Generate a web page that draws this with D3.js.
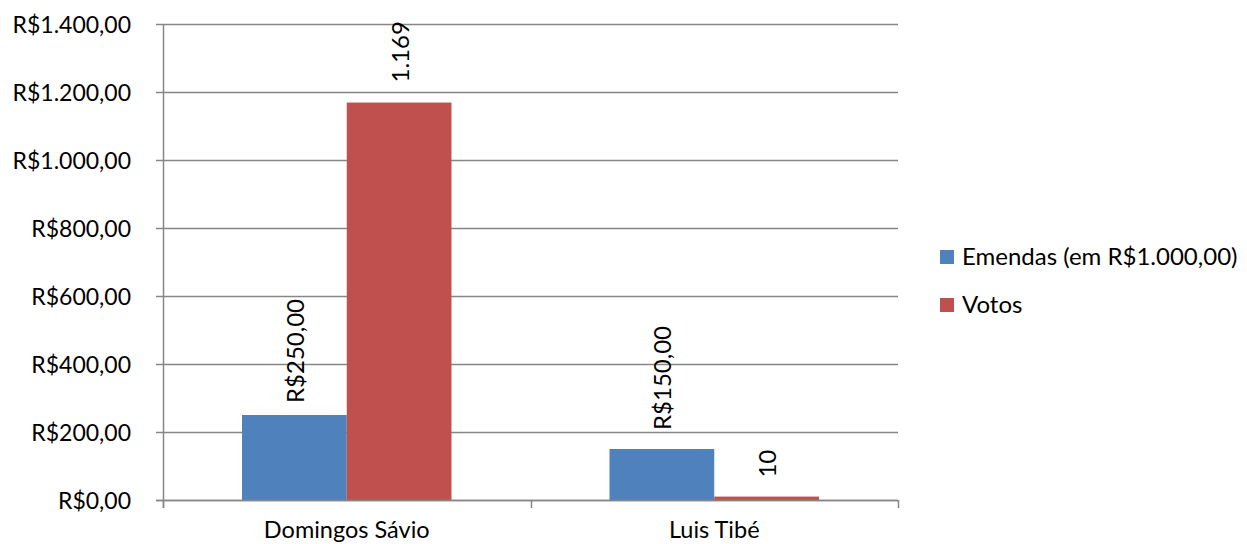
<!DOCTYPE html>
<html>
<head>
<meta charset="utf-8">
<script src="https://cdn.jsdelivr.net/npm/d3@7"></script>
<style>
  html, body { margin: 0; padding: 0; background: #fff; }
  svg { display: block; font-family: Lato, "Open Sans", sans-serif; }
</style>
</head>
<body>
<svg id="chart" width="1247" height="544"></svg>
<script>
// Candidates and the two series shown for each
const categories = ["Domingos Sávio", "Luis Tibé"];
const seriesNames = ["Emendas (em R$1.000,00)", "Votos"];
const emendas = [250, 150];
const votos = [1169, 10];
const emendasLabels = ["R$250,00", "R$150,00"];
const votosLabels = ["1.169", "10"];
const yTicks = [0, 200, 400, 600, 800, 1000, 1200, 1400];
const yTickLabels = ["R$0,00", "R$200,00", "R$400,00", "R$600,00", "R$800,00", "R$1.000,00", "R$1.200,00", "R$1.400,00"];
const colors = ["#4f81bd", "#c0504d"];

const seriesValues = [emendas, votos];
const seriesLabels = [emendasLabels, votosLabels];
// gap between bar top and its rotated label, per series / category
const labelGap = [[12, 19], [20, 19]];

const svg = d3.select("#chart");
const margin = { left: 163, right: 349, top: 24, bottom: 44 };
const W = 1247, H = 544;
const plotW = W - margin.left - margin.right;
const plotH = H - margin.top - margin.bottom;
const tickFont = 23;
const labelFont = 24;
const categoryFont = 23.5;
const gridColor = "#868686";

const g = svg.append("g").attr("transform", `translate(${margin.left},${margin.top})`);

const x = d3.scaleBand().domain(categories).range([0, plotW]).paddingInner(0).paddingOuter(0);
const inner = d3.scaleBand().domain(d3.range(seriesNames.length)).range([x.bandwidth() * 0.215, x.bandwidth() * 0.785]);
const y = d3.scaleLinear().domain([0, 1400]).range([plotH, 0]);

// horizontal gridlines
g.append("g").selectAll("line").data(yTicks).join("line")
  .attr("x1", -7).attr("x2", plotW)
  .attr("y1", d => Math.round(y(d)) + 0.5).attr("y2", d => Math.round(y(d)) + 0.5)
  .attr("stroke", gridColor).attr("stroke-width", 1.5);

// y tick labels
g.append("g").selectAll("text").data(yTicks).join("text")
  .attr("x", -32).attr("y", d => y(d))
  .attr("text-anchor", "end").attr("dominant-baseline", "central")
  .attr("font-size", tickFont).attr("fill", "#000")
  .text((d, i) => yTickLabels[i]);

// bars
seriesNames.forEach((name, si) => {
  g.append("g").selectAll("rect").data(categories).join("rect")
    .attr("x", c => x(c) + inner(si))
    .attr("width", inner.bandwidth())
    .attr("y", (c, ci) => y(seriesValues[si][ci]))
    .attr("height", (c, ci) => y(0) - y(seriesValues[si][ci]))
    .attr("fill", colors[si]);
});

// value labels, rotated, above each bar
seriesNames.forEach((name, si) => {
  g.append("g").selectAll("text").data(categories).join("text")
    .attr("transform", (c, ci) => {
      const cx = x(c) + inner(si) + inner.bandwidth() / 2;
      const cy = y(seriesValues[si][ci]) - labelGap[si][ci];
      return `translate(${cx},${cy}) rotate(-90)`;
    })
    .attr("text-anchor", "start").attr("dominant-baseline", "central")
    .attr("font-size", labelFont).attr("fill", "#000")
    .text((c, ci) => seriesLabels[si][ci]);
});

// axes lines
g.append("line").attr("x1", 0.5).attr("x2", 0.5).attr("y1", 0).attr("y2", plotH + 8)
  .attr("stroke", gridColor).attr("stroke-width", 1.5);
g.append("line").attr("x1", -7).attr("x2", plotW).attr("y1", plotH + 0.5).attr("y2", plotH + 0.5)
  .attr("stroke", gridColor).attr("stroke-width", 1.5);
// category boundary ticks
const bounds = categories.map(c => x(c)).concat([plotW]);
g.append("g").selectAll("line").data(bounds).join("line")
  .attr("x1", d => Math.round(d) + 0.5).attr("x2", d => Math.round(d) + 0.5)
  .attr("y1", plotH).attr("y2", plotH + 8)
  .attr("stroke", gridColor).attr("stroke-width", 1.5);

// category labels
g.append("g").selectAll("text").data(categories).join("text")
  .attr("x", c => x(c) + x.bandwidth() / 2).attr("y", plotH + 38)
  .attr("text-anchor", "middle").attr("font-size", categoryFont).attr("fill", "#000")
  .text(c => c);

// legend
const legend = svg.append("g").attr("transform", "translate(940,250)");
seriesNames.forEach((name, si) => {
  const row = legend.append("g").attr("transform", `translate(0,${si * 48})`);
  row.append("rect").attr("width", 14).attr("height", 14).attr("fill", colors[si]);
  row.append("text").attr("x", 22).attr("y", 15)
    .attr("font-size", labelFont).attr("fill", "#000").text(name);
});
</script>
</body>
</html>
